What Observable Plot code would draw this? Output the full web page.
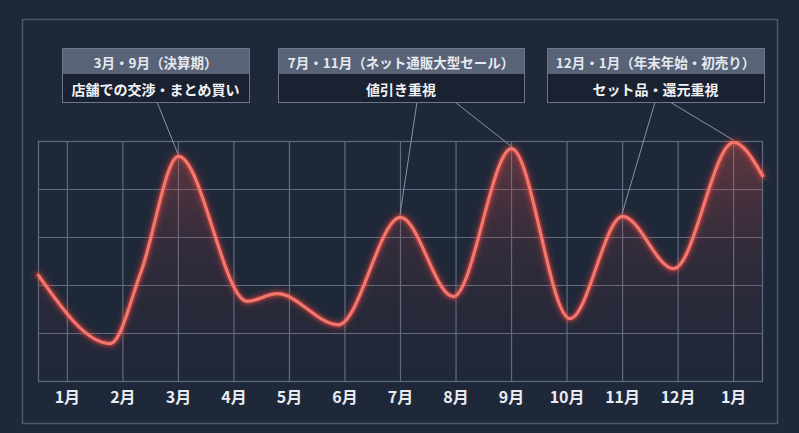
<!DOCTYPE html>
<html>
<head>
<meta charset="utf-8">
<script src="https://cdn.jsdelivr.net/npm/d3@7"></script>
<script src="https://cdn.jsdelivr.net/npm/@observablehq/plot@0.6"></script>
<style>
  html, body { margin: 0; padding: 0; background: #1f2838; }
  #chart { width: 799px; height: 433px; }
  svg { display: block; }
</style>
</head>
<body>
<div id="chart"></div>
<script>
// ---- data ----
const monthPos = [1, 2, 3, 4, 5, 6, 7, 8, 9, 10, 11, 12, 13];
const monthLabels = ["1月", "2月", "3月", "4月", "5月", "6月", "7月", "8月", "9月", "10月", "11月", "12月", "1月"];
// turning points of the curve (month position, level)
const curveX = [0.48, 1.775, 2.33, 3.0, 4.24, 4.78, 5.88, 7.0, 7.95, 9.0, 10.05, 11.0, 11.92, 13.0, 13.52];
const curveY = [2.21, 0.79, 2.3, 4.69, 1.67, 1.83, 1.18, 3.42, 1.77, 4.85, 1.31, 3.44, 2.35, 4.98, 4.29];
const peakX = [3, 7, 9, 11, 13];
const peakY = [4.69, 3.42, 4.85, 3.44, 4.98];
const annoHeaders = ["3月・9月（決算期）", "7月・11月（ネット通販大型セール）", "12月・1月（年末年始・初売り）"];
const annoBodies = ["店舗での交渉・まとめ買い", "値引き重視", "セット品・還元重視"];
// which peaks each box points to
const annoLinks = [[0], [1, 2], [3, 4]];

const data = curveX.map((x, i) => ({x, y: curveY[i]}));
const months = monthPos.map((m, i) => ({m, label: monthLabels[i]}));
const peaks = peakX.map((x, i) => ({x, y: peakY[i]}));

const font = "'Noto Sans CJK JP', 'Noto Sans', sans-serif";
const gridColor = "#606c81";
const lineColor = "#f4776e";
const glowColor = "#ff4b40";
const crv = "monotone-x";

const chart = Plot.plot({
  width: 799,
  height: 433,
  marginTop: 141,
  marginBottom: 52,
  marginLeft: 38,
  marginRight: 37,
  x: {domain: [0.48, 13.52], axis: null},
  y: {domain: [0, 5], axis: null},
  style: {background: "transparent", fontFamily: font, overflow: "visible"},
  marks: [
    Plot.ruleY([1, 2, 3, 4], {stroke: gridColor, strokeWidth: 1.2}),
    Plot.ruleX(monthPos, {stroke: gridColor, strokeWidth: 1.2}),
    Plot.frame({stroke: gridColor, strokeWidth: 1.2}),
    Plot.areaY(data, {x: "x", y: "y", curve: crv, fill: "url(#areaGrad)"}),
    Plot.line(data, {x: "x", y: "y", curve: crv, stroke: glowColor, strokeWidth: 16, strokeOpacity: 0.06}),
    Plot.line(data, {x: "x", y: "y", curve: crv, stroke: glowColor, strokeWidth: 10, strokeOpacity: 0.13}),
    Plot.line(data, {x: "x", y: "y", curve: crv, stroke: glowColor, strokeWidth: 6.5, strokeOpacity: 0.28}),
    Plot.line(data, {x: "x", y: "y", curve: crv, stroke: lineColor, strokeWidth: 3.2}),
    Plot.text(months, {x: "m", text: "label", frameAnchor: "bottom", dy: 21, fill: "#e9edf3", fontSize: 16, fontWeight: "bold"})
  ]
});

document.getElementById("chart").appendChild(chart);

// ---- decorations & annotations ----
const svg = d3.select(chart);
const sx = chart.scale("x"), sy = chart.scale("y");
const X = v => sx.apply(v), Y = v => sy.apply(v);

const defs = svg.insert("defs", ":first-child");
const grad = defs.append("linearGradient").attr("id", "areaGrad")
  .attr("gradientUnits", "userSpaceOnUse")
  .attr("x1", 0).attr("x2", 0).attr("y1", Y(5)).attr("y2", Y(0));
grad.append("stop").attr("offset", 0).attr("stop-color", "#d8554f").attr("stop-opacity", 0.36);
grad.append("stop").attr("offset", 0.45).attr("stop-color", "#a8424a").attr("stop-opacity", 0.14);
grad.append("stop").attr("offset", 1).attr("stop-color", "#7a3040").attr("stop-opacity", 0.0);

// outer frame
svg.insert("rect", "defs + *")
  .attr("x", 22.5).attr("y", 19.5).attr("width", 755).attr("height", 404)
  .attr("fill", "none").attr("stroke", "#4b566a").attr("stroke-width", 1.6);

// box layout
const boxes = [
  {x0: 62, x1: 249, starts: [157]},
  {x0: 278, x1: 524, starts: [417, 455]},
  {x0: 547, x1: 764, starts: [655, 670]}
];
const boxTop = 48, headH = 26, boxBottom = 102;

const g = svg.append("g");
boxes.forEach((b, i) => {
  annoLinks[i].forEach((pi, k) => {
    g.append("line")
      .attr("x1", b.starts[k]).attr("y1", boxBottom)
      .attr("x2", X(peaks[pi].x)).attr("y2", Y(peaks[pi].y) - 2)
      .attr("stroke", "#8893a6").attr("stroke-width", 1);
  });
});
boxes.forEach((b, i) => {
  const w = b.x1 - b.x0;
  g.append("rect").attr("x", b.x0 + 0.5).attr("y", boxTop + 0.5).attr("width", w).attr("height", boxBottom - boxTop)
    .attr("fill", "#1a2130").attr("stroke", "#6c778a").attr("stroke-width", 1);
  g.append("rect").attr("x", b.x0 + 1).attr("y", boxTop + 1).attr("width", w - 1).attr("height", headH - 1)
    .attr("fill", "#586378");
  g.append("text").attr("x", b.x0 + w / 2).attr("y", boxTop + headH / 2 + 1)
    .attr("text-anchor", "middle").attr("dominant-baseline", "central")
    .attr("font-family", font).attr("font-size", 13.5).attr("font-weight", "bold")
    .attr("fill", "#e6e9ef").text(annoHeaders[i]);
  g.append("text").attr("x", b.x0 + w / 2).attr("y", boxTop + headH + (boxBottom - boxTop - headH) / 2 + 1)
    .attr("text-anchor", "middle").attr("dominant-baseline", "central")
    .attr("font-family", font).attr("font-size", 14).attr("font-weight", "bold")
    .attr("fill", "#f1f3f6").text(annoBodies[i]);
});
</script>
</body>
</html>
